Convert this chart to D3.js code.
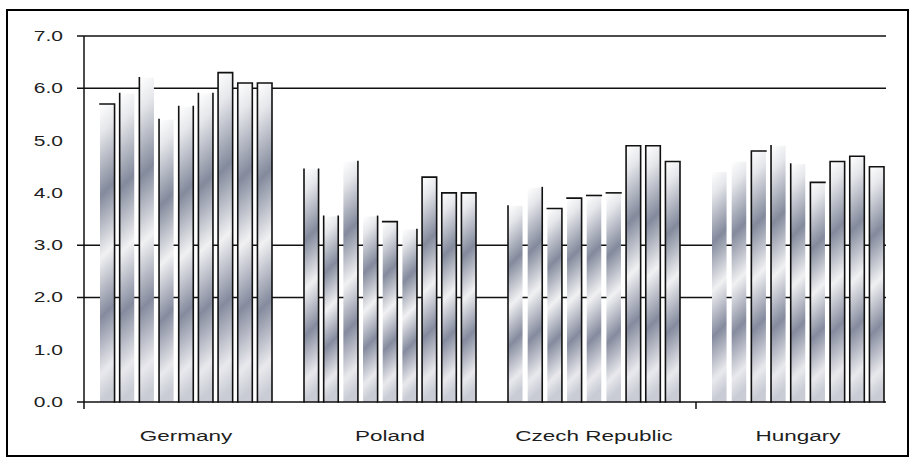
<!DOCTYPE html>
<html>
<head>
<meta charset="utf-8">
<script src="https://cdn.jsdelivr.net/npm/d3@7"></script>
<style>
  html, body { margin: 0; padding: 0; background: #fff; }
  svg { display: block; }
  text { font-family: "Liberation Sans", Arial, sans-serif; fill: #1e1e1e; }
</style>
</head>
<body>
<svg id="chart" width="915" height="464"></svg>
<script>
// ---- data ----
const categories = ["Germany", "Poland", "Czech Republic", "Hungary"];
const germany       = [5.7, 5.9, 6.2, 5.4, 5.65, 5.9, 6.3, 6.1, 6.1];
const poland        = [4.45, 3.55, 4.6, 3.55, 3.45, 3.3, 4.3, 4.0, 4.0];
const czechRepublic = [3.75, 4.1, 3.7, 3.9, 3.95, 4.0, 4.9, 4.9, 4.6];
const hungary       = [4.4, 4.6, 4.8, 4.9, 4.55, 4.2, 4.6, 4.7, 4.5];
const yTickLabels   = ["0.0", "1.0", "2.0", "3.0", "4.0", "5.0", "6.0", "7.0"];
const gridValues    = [2, 3, 6, 7];

// which edges of each bar carry an outline (T = top, L = left, R = right)
const outlineSides = [
  ["TR", "L", "L", "L", "LR", "LR", "TLR", "TLR", "TLR"],
  ["LR", "LR", "R", "R", "TR", "R", "TLR", "TLR", "TLR"],
  ["L", "R", "TR", "TR", "T", "T", "TLR", "TLR", "TLR"],
  ["", "", "TL", "L", "L", "TL", "TLR", "TLR", "TLR"]
];

const seriesByCountry = [germany, poland, czechRepublic, hungary];
const seriesIndex = d3.range(germany.length);

// ---- layout ----
const svg = d3.select("#chart");
const plotLeft = 84, plotRight = 886, plotTop = 36, plotBottom = 402;
const textStretch = 1.5;

const y = d3.scaleLinear().domain([0, 7]).range([plotBottom, plotTop]);
const x0 = d3.scaleBand().domain(categories).range([plotLeft, plotLeft + 816]).padding(0);
const x1 = d3.scaleBand().domain(seriesIndex).range([16, 188]).paddingInner(0.26).paddingOuter(0);

// outer frame
svg.append("rect")
  .attr("x", 7).attr("y", 10).attr("width", 901).attr("height", 446)
  .attr("fill", "none").attr("stroke", "#000").attr("stroke-width", 2);

// gridlines (with their left ticks)
svg.append("g").selectAll("line").data(gridValues).join("line")
  .attr("x1", plotLeft - 7).attr("x2", plotRight)
  .attr("y1", d => y(d)).attr("y2", d => y(d))
  .attr("stroke", "#111").attr("stroke-width", 1.5);

// gradients and bars
const defs = svg.append("defs");
const stops = [
  [0.00, "#ffffff"], [0.10, "#e6e7eb"], [0.31, "#838a9c"], [0.52, "#f1f1f3"],
  [0.72, "#858b9e"], [0.91, "#e9e9ed"], [1.00, "#c9ccd5"]
];

const bars = [];
categories.forEach((c, ci) => {
  seriesByCountry[ci].forEach((v, si) => {
    bars.push({ c, ci, si, v, sides: outlineSides[ci][si] });
  });
});

bars.forEach((b, i) => {
  const bx = x0(b.c) + x1(b.si);
  const top = y(b.v);
  const h = plotBottom - top;
  const g = defs.append("linearGradient")
    .attr("id", "bar-grad-" + i)
    .attr("gradientUnits", "userSpaceOnUse")
    .attr("x1", bx).attr("y1", top)
    .attr("x2", bx + h / 2).attr("y2", top + h / 2);
  g.selectAll("stop").data(stops).join("stop")
    .attr("offset", d => d[0]).attr("stop-color", d => d[1]);
});

const barG = svg.append("g");
barG.selectAll("rect").data(bars).join("rect")
  .attr("x", d => x0(d.c) + x1(d.si))
  .attr("y", d => y(d.v))
  .attr("width", x1.bandwidth())
  .attr("height", d => plotBottom - y(d.v))
  .attr("fill", (d, i) => `url(#bar-grad-${i})`);

// partial outlines on the bars
barG.selectAll("path").data(bars).join("path")
  .attr("d", d => {
    const l = x0(d.c) + x1(d.si), r = l + x1.bandwidth();
    const t = y(d.v), btm = plotBottom;
    let p = "";
    if (d.sides.includes("L")) p += `M${l},${btm}V${t}`;
    if (d.sides.includes("T")) p += `M${l},${t}H${r}`;
    if (d.sides.includes("R")) p += `M${r},${t}V${btm}`;
    return p || null;
  })
  .attr("fill", "none").attr("stroke", "#111").attr("stroke-width", 1.6)
  .attr("stroke-linecap", "square");

// axes
svg.append("line")
  .attr("x1", plotLeft).attr("x2", plotLeft)
  .attr("y1", plotTop).attr("y2", plotBottom + 7)
  .attr("stroke", "#111").attr("stroke-width", 1.5);
svg.append("line")
  .attr("x1", plotLeft - 7).attr("x2", plotRight)
  .attr("y1", plotBottom).attr("y2", plotBottom)
  .attr("stroke", "#111").attr("stroke-width", 1.5);
// category separator tick
svg.append("line")
  .attr("x1", x0("Hungary")).attr("x2", x0("Hungary"))
  .attr("y1", plotBottom).attr("y2", plotBottom + 7)
  .attr("stroke", "#111").attr("stroke-width", 1.5);

// y tick labels
svg.append("g").selectAll("text").data(yTickLabels).join("text")
  .attr("transform", d => `translate(63,${y(+d) + 5}) scale(${textStretch},1)`)
  .attr("text-anchor", "end")
  .attr("font-size", 14)
  .text(d => d);

// category labels
svg.append("g").selectAll("text").data(categories).join("text")
  .attr("transform", d => `translate(${x0(d) + x0.bandwidth() / 2},441) scale(${textStretch},1)`)
  .attr("text-anchor", "middle")
  .attr("font-size", 15)
  .text(d => d);
</script>
</body>
</html>
